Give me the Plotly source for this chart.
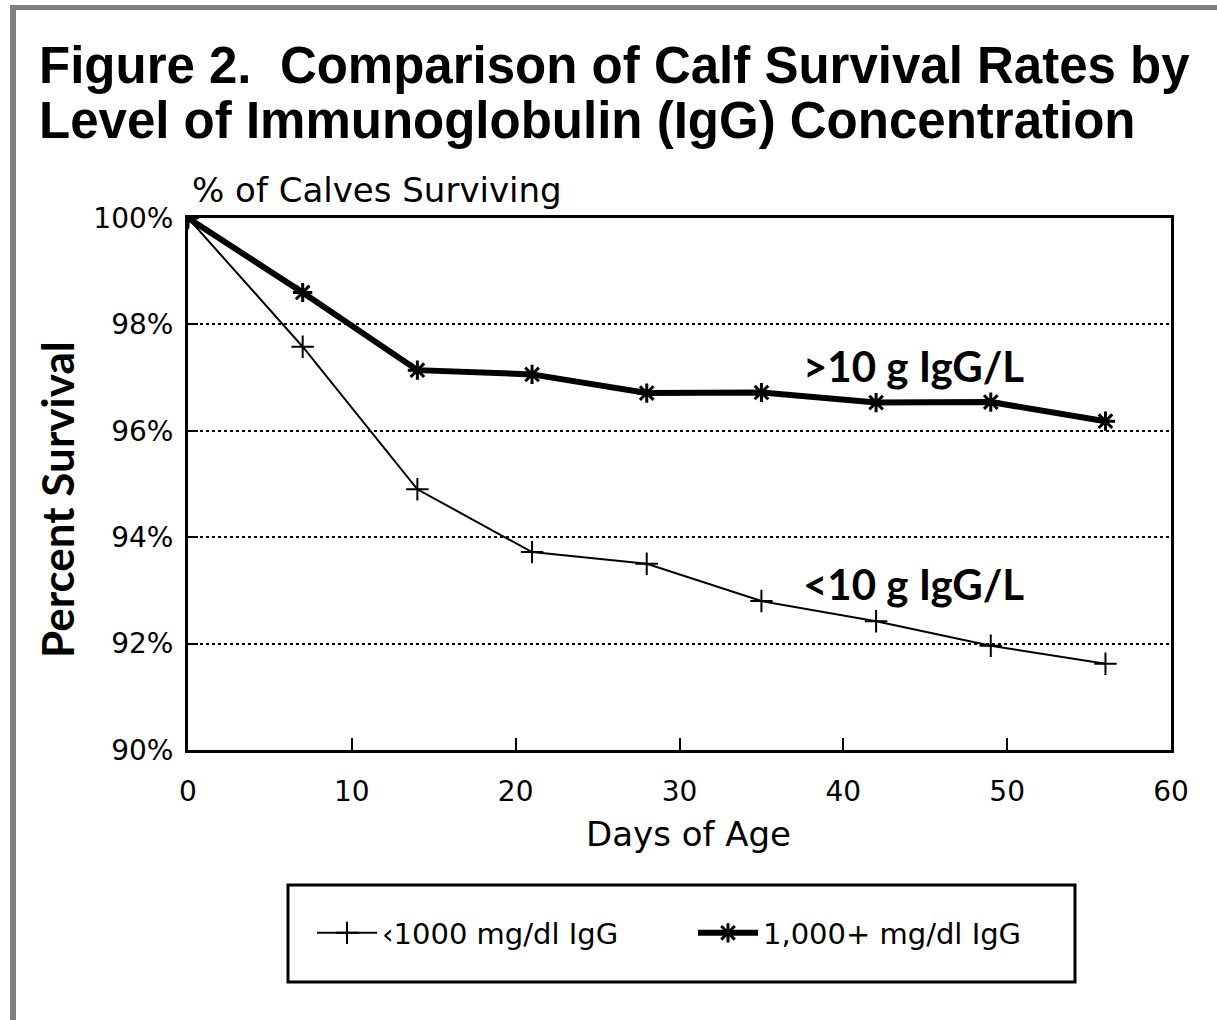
import plotly.graph_objects as go

# ---- data ----
days = [0, 7, 14, 21, 28, 35, 42, 49, 56]
low_igg = [100.0, 97.58, 94.9, 93.72, 93.5, 92.8, 92.42, 91.96, 91.62]
high_igg = [100.0, 98.6, 97.14, 97.06, 96.71, 96.72, 96.53, 96.54, 96.18]
series_names = ["\u20391000 mg/dl IgG", "1,000+ mg/dl IgG"]
y_ticks = [90, 92, 94, 96, 98, 100]
y_tick_text = ["90%", "92%", "94%", "96%", "98%", "100%"]
x_ticks = [0, 10, 20, 30, 40, 50, 60]

W, H = 1217, 1020
L, R, T, B = 188, 46, 218, 270
PW, PH = W - L - R, H - T - B


def px(x):
    return (x - L) / PW


def py(y):
    return (H - B - y) / PH


fig = go.Figure()
fig.add_trace(go.Scatter(
    x=days, y=low_igg, name=series_names[0], mode="lines+markers",
    line=dict(color="black", width=2),
    marker=dict(symbol="cross-thin-open", size=16, line=dict(color="black", width=2)),
))
fig.add_trace(go.Scatter(
    x=days, y=high_igg, name=series_names[1], mode="lines+markers",
    line=dict(color="black", width=6),
    marker=dict(symbol="asterisk-open", size=16, line=dict(color="black", width=3)),
))

tick_font = dict(family="DejaVu Sans", size=28, color="black")
fig.update_xaxes(
    range=[0, 60], tickvals=x_ticks, ticks="inside", ticklen=12, tickwidth=2,
    tickcolor="black", showline=True, linecolor="black", linewidth=3, mirror=True,
    showgrid=False, zeroline=False, tickfont=tick_font, ticklabelstandoff=14,
)
fig.update_yaxes(
    range=[90, 100], tickvals=y_ticks, ticktext=y_tick_text, ticks="inside",
    ticklen=10, tickwidth=2, tickcolor="black", showline=True, linecolor="black",
    linewidth=3, mirror=True, showgrid=True, gridcolor="black", griddash="dot",
    gridwidth=2, zeroline=False, tickfont=tick_font, ticklabelstandoff=6,
)

ann = []
ann.append(dict(text="Figure 2.&nbsp; Comparison of Calf Survival Rates by", x=px(37), y=py(66),
                xanchor="left", yanchor="middle",
                font=dict(family="Liberation Sans", size=51, color="black", weight="bold")))
ann.append(dict(text="Level of Immunoglobulin (IgG) Concentration", x=px(37), y=py(120),
                xanchor="left", yanchor="middle",
                font=dict(family="Liberation Sans", size=51, color="black", weight="bold")))
ann.append(dict(text="% of Calves Surviving", x=px(190), y=py(190), xanchor="left", yanchor="middle",
                font=dict(family="DejaVu Sans", size=34, color="black")))
ann.append(dict(text="Days of Age", x=px(688), y=py(834), xanchor="center", yanchor="middle",
                font=dict(family="DejaVu Sans", size=34, color="black")))
ann.append(dict(text="Percent Survival", x=px(57), y=py(500), xanchor="center", yanchor="middle",
                textangle=-90,
                font=dict(family="Lato", size=44, color="black", weight="bold")))
ann.append(dict(text=">10 g IgG/L", x=px(801), y=py(366), xanchor="left", yanchor="middle",
                font=dict(family="Lato", size=42, color="black", weight="bold")))
ann.append(dict(text="<10 g IgG/L", x=px(801), y=py(584), xanchor="left", yanchor="middle",
                font=dict(family="Lato", size=42, color="black", weight="bold")))
for a in ann:
    a.update(xref="paper", yref="paper", showarrow=False)

shapes = [
    # legend box
    dict(type="rect", xref="paper", yref="paper", x0=px(288), x1=px(1075), y0=py(885), y1=py(982),
         line=dict(color="black", width=3), fillcolor="rgba(0,0,0,0)"),
    # grey frame
    dict(type="rect", xref="paper", yref="paper", x0=px(10), x1=px(1217), y0=py(5), y1=py(10),
         line=dict(width=0), fillcolor="#808080"),
    dict(type="rect", xref="paper", yref="paper", x0=px(10), x1=px(16), y0=py(5), y1=py(1020),
         line=dict(width=0), fillcolor="#808080"),
]

fig.update_layout(
    width=W, height=H, margin=dict(l=L, r=R, t=T, b=B, pad=0),
    paper_bgcolor="white", plot_bgcolor="white",
    annotations=ann, shapes=shapes,
    showlegend=True,
    legend=dict(orientation="h", x=px(312), y=py(933), xanchor="left", yanchor="middle",
                font=dict(family="DejaVu Sans", size=29, color="black"),
                itemwidth=60, entrywidth=306, bgcolor="rgba(0,0,0,0)", borderwidth=0),
)

fig.write_html("out.html", config={"displayModeBar": False})
with open("out.html") as f:
    html = f.read()
html = html.replace("<body>", '<body style="margin:0">', 1)
with open("out.html", "w") as f:
    f.write(html)
